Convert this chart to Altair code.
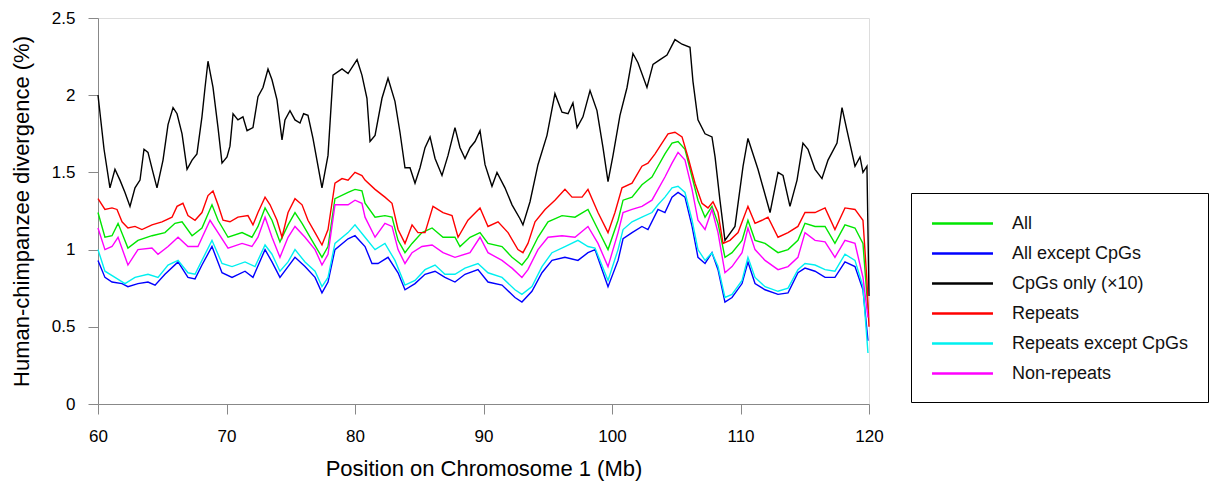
import altair as alt
import pandas as pd

# ---- data (x in Mb, y in %) ----
series_names = ["All", "All except CpGs", "CpGs only (\u00d710)", "Repeats",
                "Repeats except CpGs", "Non-repeats"]
series_colors = ["#00E600", "#0000FF", "#000000", "#FF0000", "#00F0F0", "#FF00FF"]

cpg_x = [60.00, 60.47, 60.93, 61.32, 61.71, 62.10, 62.49, 62.88, 63.27, 63.58, 63.89, 64.28,
         64.59, 65.06, 65.45, 65.84, 66.15, 66.54, 66.93, 67.32, 67.70, 68.09, 68.33, 68.56,
         68.95, 69.34, 69.65, 70.04, 70.27, 70.51, 70.89, 71.28, 71.60, 72.06, 72.45, 72.84,
         73.23, 73.54, 73.93, 74.32, 74.55, 74.94, 75.33, 75.72, 76.00, 76.34, 76.73, 77.43,
         77.90, 78.29, 78.99, 79.46, 80.16, 80.54, 80.93, 81.17, 81.56, 82.10, 82.57, 83.11,
         83.50, 83.89, 84.28, 84.67, 85.06, 85.45, 85.84, 86.23, 86.77, 87.24, 87.78, 88.17,
         88.56, 88.95, 89.34, 89.73, 90.12, 90.66, 91.05, 91.67, 92.22, 92.84, 93.07, 93.62,
         94.24, 94.94, 95.56, 96.11, 96.58, 96.96, 97.28, 97.74, 98.29, 98.83, 99.30, 99.69,
         100.08, 100.62, 101.17, 101.63, 102.02, 102.72, 103.19, 103.74, 104.28, 104.90,
         105.45, 106.07, 106.30, 106.69, 107.24, 107.78, 108.02, 108.40, 108.79, 109.57,
         110.20, 110.58, 111.36, 112.30, 112.92, 113.31, 113.85, 114.40, 114.86, 115.25,
         115.80, 116.34, 116.81, 117.51, 117.90, 118.29, 118.91, 119.30, 119.53, 119.84, 120.00]
cpg_y = [2.00, 1.65, 1.40, 1.52, 1.45, 1.37, 1.28, 1.40, 1.45, 1.65, 1.63, 1.50,
         1.40, 1.58, 1.81, 1.92, 1.88, 1.75, 1.52, 1.58, 1.62, 1.86, 2.05, 2.22,
         2.05, 1.79, 1.56, 1.60, 1.67, 1.88, 1.84, 1.86, 1.77, 1.79, 1.99, 2.05,
         2.17, 2.10, 1.97, 1.71, 1.84, 1.90, 1.84, 1.82, 1.88, 1.87, 1.72, 1.40,
         1.61, 2.13, 2.17, 2.14, 2.23, 2.13, 1.98, 1.70, 1.74, 1.98, 2.11, 1.96,
         1.76, 1.53, 1.53, 1.43, 1.53, 1.66, 1.73, 1.59, 1.48, 1.61, 1.79, 1.66,
         1.59, 1.66, 1.70, 1.77, 1.55, 1.41, 1.50, 1.40, 1.29, 1.20, 1.16, 1.31,
         1.55, 1.74, 2.01, 1.89, 1.88, 1.95, 1.79, 1.86, 2.03, 1.90, 1.66, 1.44,
         1.61, 1.87, 2.05, 2.27, 2.21, 2.05, 2.20, 2.23, 2.26, 2.36,
         2.33, 2.31, 2.09, 1.84, 1.75, 1.73, 1.60, 1.32, 1.06, 1.15,
         1.54, 1.72, 1.52, 1.24, 1.50, 1.48, 1.28, 1.45, 1.69, 1.65,
         1.52, 1.46, 1.58, 1.69, 1.92, 1.77, 1.54, 1.60, 1.50, 1.54, 0.70]

rep_x = [60.00, 60.54, 61.09, 61.48, 61.87, 62.33, 62.88, 63.42, 64.20, 64.98, 65.76, 66.15,
         66.61, 67.00, 67.55, 68.09, 68.56, 68.95, 69.34, 69.73, 70.27, 70.89, 71.67, 72.06,
         72.45, 73.00, 73.39, 73.93, 74.32, 74.79, 75.33, 75.88, 76.34, 76.89, 77.43, 77.90,
         78.44, 78.99, 79.46, 80.00, 80.54, 80.78, 81.56, 82.33, 82.88, 83.35, 83.89, 84.44,
         84.90, 85.45, 86.07, 86.85, 87.55, 88.02, 88.79, 89.73, 90.35, 91.13, 91.91, 92.68,
         93.07, 93.46, 94.01, 94.79, 95.56, 96.34, 96.89, 97.67, 98.13, 98.91, 99.69, 100.23,
         100.78, 101.56, 102.33, 102.80, 103.35, 103.89, 104.36, 104.90, 105.45, 105.91,
         106.46, 107.00, 107.47, 107.86, 108.25, 108.64, 109.18, 109.81, 110.58, 111.13,
         111.67, 112.14, 112.92, 113.70, 114.47, 115.02, 115.80, 116.58, 117.35, 118.13,
         118.91, 119.53, 119.84, 120.00]
rep_y = [1.33, 1.26, 1.27, 1.26, 1.18, 1.14, 1.15, 1.13, 1.16, 1.18, 1.21, 1.28,
         1.30, 1.22, 1.19, 1.24, 1.35, 1.38, 1.29, 1.19, 1.18, 1.21, 1.22, 1.16,
         1.24, 1.34, 1.29, 1.19, 1.08, 1.24, 1.33, 1.29, 1.19, 1.11, 1.03, 1.13,
         1.43, 1.46, 1.45, 1.50, 1.48, 1.45, 1.39, 1.34, 1.30, 1.13, 1.04, 1.16,
         1.11, 1.11, 1.28, 1.24, 1.22, 1.08, 1.19, 1.27, 1.15, 1.18, 1.11, 1.00,
         0.98, 1.04, 1.18, 1.26, 1.32, 1.39, 1.34, 1.34, 1.39, 1.24, 1.11, 1.24,
         1.40, 1.43, 1.54, 1.56, 1.62, 1.69, 1.75, 1.76, 1.73, 1.60,
         1.43, 1.30, 1.27, 1.31, 1.24, 1.04, 1.06, 1.11, 1.28, 1.17,
         1.19, 1.21, 1.08, 1.11, 1.15, 1.24, 1.24, 1.27, 1.13, 1.27,
         1.26, 1.19, 0.80, 0.50]

all_x = [60.00, 60.54, 61.09, 61.56, 62.33, 63.11, 64.20, 65.21, 65.99, 66.54, 67.32, 68.09,
         68.87, 69.34, 70.12, 71.21, 71.98, 72.45, 73.00, 73.54, 74.16, 74.79, 75.33, 75.88,
         76.65, 77.43, 77.90, 78.44, 79.46, 80.00, 80.54, 80.78, 81.56, 82.33, 82.88, 83.35,
         83.89, 84.44, 85.21, 86.00, 86.85, 87.78, 88.17, 88.95, 89.73, 90.35, 91.44, 92.22,
         92.99, 93.46, 94.24, 95.02, 96.11, 97.12, 98.13, 98.91, 99.69, 100.47, 100.86,
         101.56, 102.33, 103.11, 103.58, 104.12, 104.67, 105.14, 105.68, 106.23, 106.69,
         107.24, 107.78, 108.25, 108.79, 109.34, 110.12, 110.58, 111.13, 111.91, 112.92,
         113.70, 114.47, 115.02, 115.80, 116.58, 117.35, 118.13, 118.91, 119.53, 119.92]
all_y = [1.24, 1.08, 1.09, 1.17, 1.01, 1.06, 1.09, 1.11, 1.17, 1.18, 1.09, 1.14,
         1.29, 1.19, 1.08, 1.11, 1.08, 1.15, 1.27, 1.19, 1.05, 1.16, 1.24, 1.17,
         1.06, 0.95, 1.02, 1.33, 1.37, 1.39, 1.38, 1.30, 1.21, 1.22, 1.21, 1.06,
         0.98, 1.04, 1.11, 1.14, 1.08, 1.08, 1.02, 1.08, 1.11, 1.04, 1.02, 0.95,
         0.90, 0.95, 1.08, 1.18, 1.22, 1.21, 1.26, 1.13, 1.00, 1.19, 1.32,
         1.34, 1.42, 1.47, 1.54, 1.62, 1.69, 1.70, 1.65, 1.47, 1.32,
         1.21, 1.28, 1.17, 0.95, 0.98, 1.06, 1.19, 1.06, 1.04, 0.98,
         1.00, 1.06, 1.17, 1.15, 1.15, 1.04, 1.16, 1.14, 1.04, 0.61]

nonrep_x = [60.00, 60.54, 61.09, 61.56, 62.33, 63.11, 64.20, 64.67, 65.45, 66.23, 67.00, 67.78,
            68.72, 69.34, 70.12, 71.21, 71.98, 72.45, 73.00, 73.54, 74.16, 74.79, 75.33, 76.11,
            76.89, 77.43, 77.90, 78.44, 79.46, 80.00, 80.54, 80.78, 81.56, 82.33, 82.88, 83.35,
            83.89, 84.44, 85.21, 86.00, 86.85, 87.78, 88.95, 89.73, 90.35, 91.44, 92.22, 92.99,
            93.46, 94.24, 95.02, 96.11, 97.12, 98.13, 98.91, 99.69, 100.47, 100.86, 101.56,
            102.33, 103.11, 103.58, 104.12, 104.67, 105.14, 105.68, 106.23, 106.69, 107.24,
            107.78, 108.25, 108.79, 109.34, 110.12, 110.58, 111.13, 111.91, 112.92, 113.70,
            114.47, 115.02, 115.80, 116.58, 117.35, 118.13, 118.91, 119.53, 119.92]
nonrep_y = [1.14, 1.00, 1.02, 1.08, 0.90, 1.00, 1.01, 0.97, 1.02, 1.08, 1.02, 1.02,
            1.19, 1.11, 1.01, 1.04, 1.02, 1.08, 1.21, 1.08, 0.95, 1.08, 1.15, 1.08,
            1.00, 0.90, 0.97, 1.29, 1.29, 1.32, 1.30, 1.21, 1.08, 1.17, 1.15, 1.00,
            0.91, 0.98, 1.02, 1.03, 0.98, 0.95, 0.98, 1.08, 0.98, 0.93, 0.88, 0.82,
            0.87, 1.00, 1.08, 1.09, 1.08, 1.15, 1.04, 0.89, 1.11, 1.24, 1.26,
            1.28, 1.32, 1.39, 1.47, 1.56, 1.63, 1.58, 1.39, 1.19, 1.13,
            1.26, 1.11, 0.85, 0.89, 0.98, 1.14, 1.00, 0.93, 0.87, 0.89,
            0.95, 1.11, 1.06, 1.05, 0.95, 1.06, 1.04, 0.82, 0.56]

repx_x = [60.00, 60.54, 61.32, 62.10, 62.88, 63.89, 64.67, 65.45, 66.23, 67.00, 67.55, 68.09,
          68.87, 69.65, 70.43, 71.44, 72.22, 73.00, 73.54, 74.16, 74.79, 75.33, 76.11, 76.89,
          77.43, 77.90, 78.44, 79.46, 80.00, 80.78, 81.56, 82.33, 83.11, 83.89, 84.67, 85.45,
          86.23, 87.00, 87.78, 88.56, 89.57, 90.35, 91.44, 92.45, 92.99, 93.77, 94.55, 95.33,
          96.34, 97.35, 98.13, 98.68, 99.69, 100.47, 100.86, 101.56, 102.33, 103.11, 103.58,
          104.12, 104.67, 105.14, 105.68, 106.23, 106.69, 107.24, 107.78, 108.25, 108.79,
          109.34, 110.12, 110.58, 111.13, 111.91, 112.92, 113.70, 114.47, 115.02, 115.80,
          116.58, 117.35, 118.13, 118.91, 119.53, 119.92]
repx_y = [1.00, 0.86, 0.82, 0.78, 0.82, 0.84, 0.82, 0.90, 0.93, 0.85, 0.84, 0.93,
          1.06, 0.91, 0.89, 0.92, 0.89, 1.03, 0.97, 0.86, 0.92, 1.00, 0.92, 0.86,
          0.76, 0.82, 1.04, 1.11, 1.16, 1.08, 1.00, 1.04, 0.93, 0.77, 0.80, 0.87,
          0.90, 0.84, 0.84, 0.88, 0.91, 0.85, 0.82, 0.74, 0.71, 0.76, 0.89, 0.98,
          1.02, 1.06, 1.02, 1.01, 0.80, 1.00, 1.13, 1.18, 1.21, 1.24, 1.29,
          1.34, 1.40, 1.41, 1.37, 1.19, 1.00, 0.93, 0.98, 0.89, 0.69,
          0.71, 0.80, 0.95, 0.82, 0.76, 0.73, 0.75, 0.87, 0.91, 0.90,
          0.87, 0.86, 0.97, 0.93, 0.76, 0.33]

allx_x = [60.00, 60.54, 61.09, 61.87, 62.33, 63.11, 63.89, 64.44, 65.21, 66.23, 67.00, 67.55,
          68.09, 68.87, 69.65, 70.43, 71.44, 72.06, 73.00, 73.54, 74.16, 74.79, 75.33, 76.11,
          76.89, 77.43, 77.90, 78.44, 79.46, 80.00, 80.78, 81.32, 81.79, 82.57, 83.35, 83.89,
          84.67, 85.45, 86.23, 87.00, 87.78, 88.56, 89.57, 90.35, 91.44, 92.45, 92.99, 93.77,
          94.55, 95.33, 96.34, 97.35, 98.13, 98.68, 99.69, 100.47, 100.86, 101.56, 102.33,
          102.80, 103.58, 104.12, 104.67, 105.14, 105.68, 106.23, 106.69, 107.24, 107.78,
          108.25, 108.79, 109.34, 110.12, 110.58, 111.13, 111.91, 112.92, 113.70, 114.47,
          115.02, 115.80, 116.58, 117.35, 118.13, 118.91, 119.53, 119.92]
allx_y = [0.93, 0.82, 0.79, 0.78, 0.76, 0.78, 0.79, 0.77, 0.84, 0.92, 0.82, 0.81,
          0.90, 1.02, 0.85, 0.82, 0.86, 0.82, 1.00, 0.92, 0.82, 0.89, 0.95, 0.89,
          0.82, 0.72, 0.79, 1.00, 1.07, 1.09, 1.02, 0.91, 0.91, 0.95, 0.85, 0.74,
          0.78, 0.84, 0.86, 0.82, 0.79, 0.84, 0.87, 0.79, 0.77, 0.69, 0.66, 0.73,
          0.85, 0.93, 0.95, 0.93, 0.98, 1.00, 0.76, 0.93, 1.07, 1.11, 1.15,
          1.13, 1.26, 1.24, 1.34, 1.37, 1.34, 1.15, 0.95, 0.91, 0.98,
          0.87, 0.66, 0.69, 0.78, 0.92, 0.78, 0.74, 0.71, 0.72, 0.85,
          0.88, 0.86, 0.82, 0.82, 0.92, 0.89, 0.74, 0.41]

x_ticks = [60, 70, 80, 90, 100, 110, 120]
y_ticks = [0, 0.5, 1, 1.5, 2, 2.5]

# ---- long table ----
parts = []
for name, xs, ys in [
    (series_names[0], all_x, all_y),
    (series_names[1], allx_x, allx_y),
    (series_names[2], cpg_x, cpg_y),
    (series_names[3], rep_x, rep_y),
    (series_names[4], repx_x, repx_y),
    (series_names[5], nonrep_x, nonrep_y),
]:
    parts.append(pd.DataFrame({"pos": xs, "div": ys, "series": name,
                               "order": series_names.index(name)}))
df = pd.concat(parts, ignore_index=True)

FONT = "Liberation Sans"

chart = alt.Chart(df).mark_line(strokeWidth=1.4).encode(
    x=alt.X("pos:Q",
            scale=alt.Scale(domain=[60, 120], nice=False, zero=False),
            axis=alt.Axis(values=x_ticks, title="Position on Chromosome 1 (Mb)",
                          grid=False, tickSize=10, labelPadding=14,
                          titlePadding=14, labelFontSize=17, titleFontSize=22,
                          titleFontWeight="normal", labelFlush=False)),
    y=alt.Y("div:Q",
            scale=alt.Scale(domain=[0, 2.5], nice=False),
            axis=alt.Axis(values=y_ticks, format="~g",
                          title="Human-chimpanzee divergence (%)",
                          grid=False, tickSize=10, labelPadding=13,
                          titlePadding=18, labelFontSize=17, titleFontSize=22,
                          titleFontWeight="normal", labelFlush=False)),
    color=alt.Color("series:N",
                    scale=alt.Scale(domain=series_names, range=series_colors),
                    sort=series_names,
                    legend=alt.Legend(title=None, orient="none",
                                      legendX=813, legendY=175,
                                      symbolType="M-3,0H3", symbolSize=413,
                                      symbolStrokeWidth=2.5, symbolOffset=21,
                                      labelFontSize=18, labelOffset=38,
                                      labelLimit=400, rowPadding=9,
                                      padding=19, strokeColor="black",
                                      labelFont=FONT, labelColor="#111")),
    order=alt.Order("order:Q"),
    detail="series:N",
).properties(
    width=771, height=386,
    autosize=alt.AutoSizeParams(type="none"),
    padding={"left": 98, "top": 18, "right": 347, "bottom": 87},
).configure_view(stroke=None).configure_axis(
    domainColor="black", tickColor="black", labelColor="#111", titleColor="#111",
    labelFont=FONT, titleFont=FONT, titleFontWeight="normal", domainWidth=1.5,
    tickWidth=1.5,
).configure(background="white")

chart.save("out.html", embed_options={"renderer": "svg", "actions": False})
